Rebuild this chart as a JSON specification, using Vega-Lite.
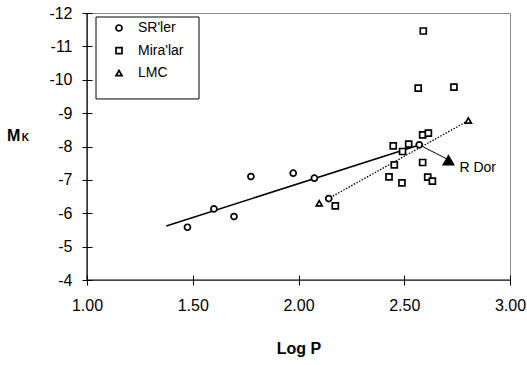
{
  "$schema": "https://vega.github.io/schema/vega-lite/v6.json",
  "width": 423,
  "height": 267,
  "autosize": {"type": "none"},
  "padding": {"left": 87, "top": 13, "right": 17, "bottom": 85},
  "background": "white",
  "datasets": {
    "stars": [
      {"logP": 1.475, "MK": -5.58, "group": "SR'ler"},
      {"logP": 1.600, "MK": -6.13, "group": "SR'ler"},
      {"logP": 1.695, "MK": -5.90, "group": "SR'ler"},
      {"logP": 1.775, "MK": -7.10, "group": "SR'ler"},
      {"logP": 1.975, "MK": -7.20, "group": "SR'ler"},
      {"logP": 2.075, "MK": -7.05, "group": "SR'ler"},
      {"logP": 2.143, "MK": -6.44, "group": "SR'ler"},
      {"logP": 2.571, "MK": -8.05, "group": "SR'ler"},
      {"logP": 2.590, "MK": -11.46, "group": "Mira'lar"},
      {"logP": 2.566, "MK": -9.75, "group": "Mira'lar"},
      {"logP": 2.735, "MK": -9.78, "group": "Mira'lar"},
      {"logP": 2.448, "MK": -8.02, "group": "Mira'lar"},
      {"logP": 2.492, "MK": -7.85, "group": "Mira'lar"},
      {"logP": 2.521, "MK": -8.07, "group": "Mira'lar"},
      {"logP": 2.587, "MK": -8.35, "group": "Mira'lar"},
      {"logP": 2.614, "MK": -8.40, "group": "Mira'lar"},
      {"logP": 2.453, "MK": -7.45, "group": "Mira'lar"},
      {"logP": 2.587, "MK": -7.52, "group": "Mira'lar"},
      {"logP": 2.428, "MK": -7.09, "group": "Mira'lar"},
      {"logP": 2.489, "MK": -6.91, "group": "Mira'lar"},
      {"logP": 2.611, "MK": -7.08, "group": "Mira'lar"},
      {"logP": 2.633, "MK": -6.96, "group": "Mira'lar"},
      {"logP": 2.174, "MK": -6.22, "group": "Mira'lar"},
      {"logP": 2.098, "MK": -6.30, "group": "LMC"},
      {"logP": 2.803, "MK": -8.78, "group": "LMC"}
    ],
    "srFit": [
      {"logP": 1.375, "MK": -5.62},
      {"logP": 2.560, "MK": -8.02}
    ],
    "lmcFit": [
      {"logP": 2.150, "MK": -6.47},
      {"logP": 2.790, "MK": -8.73}
    ],
    "pointer": [
      {"logP": 2.571, "MK": -8.05},
      {"logP": 2.700, "MK": -7.63}
    ],
    "rdor": [
      {"logP": 2.709, "MK": -7.60, "name": "R Dor"}
    ],
    "one": [{}]
  },
  "encoding": {
    "x": {"type": "quantitative", "scale": {"domain": [1, 3], "nice": false}, "title": "Log P",
          "axis": {"values": [1, 1.5, 2, 2.5, 3], "format": ".2f", "tickCount": 5}},
    "y": {"type": "quantitative", "scale": {"domain": [-12, -4], "reverse": true, "nice": false}, "title": null,
          "axis": {"values": [-12, -11, -10, -9, -8, -7, -6, -5, -4], "tickCount": 9, "labelExpr": "toString(datum.value)", "labelOverlap": false}}
  },
  "layer": [
    {
      "data": {"name": "one"},
      "mark": {"type": "rect", "fill": "white", "stroke": "black", "strokeWidth": 1},
      "encoding": {
        "x": {"datum": 1.0426},
        "x2": {"datum": 1.5296},
        "y": {"datum": -11.88},
        "y2": {"datum": -9.425}
      }
    },
    {
      "data": {"name": "srFit"},
      "mark": {"type": "line", "color": "black", "strokeWidth": 1.6},
      "encoding": {"x": {"field": "logP"}, "y": {"field": "MK"}}
    },
    {
      "data": {"name": "lmcFit"},
      "mark": {"type": "line", "color": "black", "strokeWidth": 1.3, "strokeDash": [1.5, 1.5]},
      "encoding": {"x": {"field": "logP"}, "y": {"field": "MK"}}
    },
    {
      "data": {"name": "pointer"},
      "mark": {"type": "line", "color": "black", "strokeWidth": 1},
      "encoding": {"x": {"field": "logP"}, "y": {"field": "MK"}}
    },
    {
      "data": {"name": "stars"},
      "mark": {"type": "point", "fill": "white", "stroke": "black", "strokeWidth": 1.7, "opacity": 1, "size": 36},
      "encoding": {
        "x": {"field": "logP"},
        "y": {"field": "MK"},
        "shape": {
          "field": "group", "type": "nominal",
          "scale": {"domain": ["SR'ler", "Mira'lar", "LMC"], "range": ["circle", "square", "triangle-up"]},
          "legend": null
        }
      }
    },
    {
      "data": {"name": "one"},
      "mark": {"type": "point", "shape": "circle", "fill": "white", "stroke": "black", "strokeWidth": 1.7, "opacity": 1, "size": 36},
      "encoding": {"x": {"datum": 1.1513}, "y": {"datum": -11.55}}
    },
    {
      "data": {"name": "one"},
      "mark": {"type": "point", "shape": "square", "fill": "white", "stroke": "black", "strokeWidth": 1.7, "opacity": 1, "size": 36},
      "encoding": {"x": {"datum": 1.1513}, "y": {"datum": -10.87}}
    },
    {
      "data": {"name": "one"},
      "mark": {"type": "point", "shape": "triangle-up", "fill": "white", "stroke": "black", "strokeWidth": 1.7, "opacity": 1, "size": 36},
      "encoding": {"x": {"datum": 1.1513}, "y": {"datum": -10.2}}
    },
    {
      "data": {"name": "one"},
      "mark": {"type": "text", "text": "SR'ler", "align": "left", "baseline": "middle", "font": "Liberation Sans", "fontSize": 14, "color": "black"},
      "encoding": {"x": {"datum": 1.2411}, "y": {"datum": -11.55}}
    },
    {
      "data": {"name": "one"},
      "mark": {"type": "text", "text": "Mira'lar", "align": "left", "baseline": "middle", "font": "Liberation Sans", "fontSize": 14, "color": "black"},
      "encoding": {"x": {"datum": 1.2411}, "y": {"datum": -10.87}}
    },
    {
      "data": {"name": "one"},
      "mark": {"type": "text", "text": "LMC", "align": "left", "baseline": "middle", "font": "Liberation Sans", "fontSize": 14, "color": "black"},
      "encoding": {"x": {"datum": 1.2411}, "y": {"datum": -10.2}}
    },
    {
      "data": {"name": "rdor"},
      "mark": {"type": "point", "shape": "triangle-up", "filled": true, "color": "black", "opacity": 1, "size": 170},
      "encoding": {"x": {"field": "logP"}, "y": {"field": "MK"}}
    },
    {
      "data": {"name": "rdor"},
      "mark": {"type": "text", "align": "left", "baseline": "middle", "dx": 11, "dy": 8, "font": "Liberation Sans", "fontSize": 14, "color": "black"},
      "encoding": {"x": {"field": "logP"}, "y": {"field": "MK"}, "text": {"field": "name"}}
    },
    {
      "data": {"name": "one"},
      "mark": {"type": "text", "text": "M", "align": "left", "baseline": "alphabetic", "font": "Liberation Sans", "fontSize": 16, "fontWeight": "bold", "color": "black"},
      "encoding": {"x": {"datum": 0.622}, "y": {"datum": -8.16}}
    },
    {
      "data": {"name": "one"},
      "mark": {"type": "text", "text": "K", "align": "left", "baseline": "alphabetic", "font": "Liberation Sans", "fontSize": 10, "fontWeight": "bold", "color": "black"},
      "encoding": {"x": {"datum": 0.692}, "y": {"datum": -8.16}}
    },
    {
      "data": {"name": "one"},
      "mark": {"type": "rule", "color": "black", "strokeWidth": 1.2},
      "encoding": {"x": {"datum": 1}, "y": null}
    },
    {
      "data": {"name": "one"},
      "mark": {"type": "rule", "color": "black", "strokeWidth": 1.2},
      "encoding": {"y": {"datum": -4}, "x": null}
    }
  ],
  "config": {
    "view": {"stroke": "#8c8c8c", "strokeWidth": 1},
    "axis": {
      "domain": false,
      "grid": false,
      "ticks": true,
      "tickSize": 10,
      "tickColor": "black",
      "tickWidth": 1,
      "offset": -5,
      "labelFont": "Liberation Sans",
      "labelFontSize": 16,
      "labelColor": "black",
      "titleFont": "Liberation Sans",
      "titleFontSize": 16,
      "titleFontWeight": "bold",
      "titleColor": "black"
    },
    "axisX": {"labelPadding": 12, "titlePadding": 27, "labelFlush": false},
    "axisY": {"labelPadding": 10}
  }
}
